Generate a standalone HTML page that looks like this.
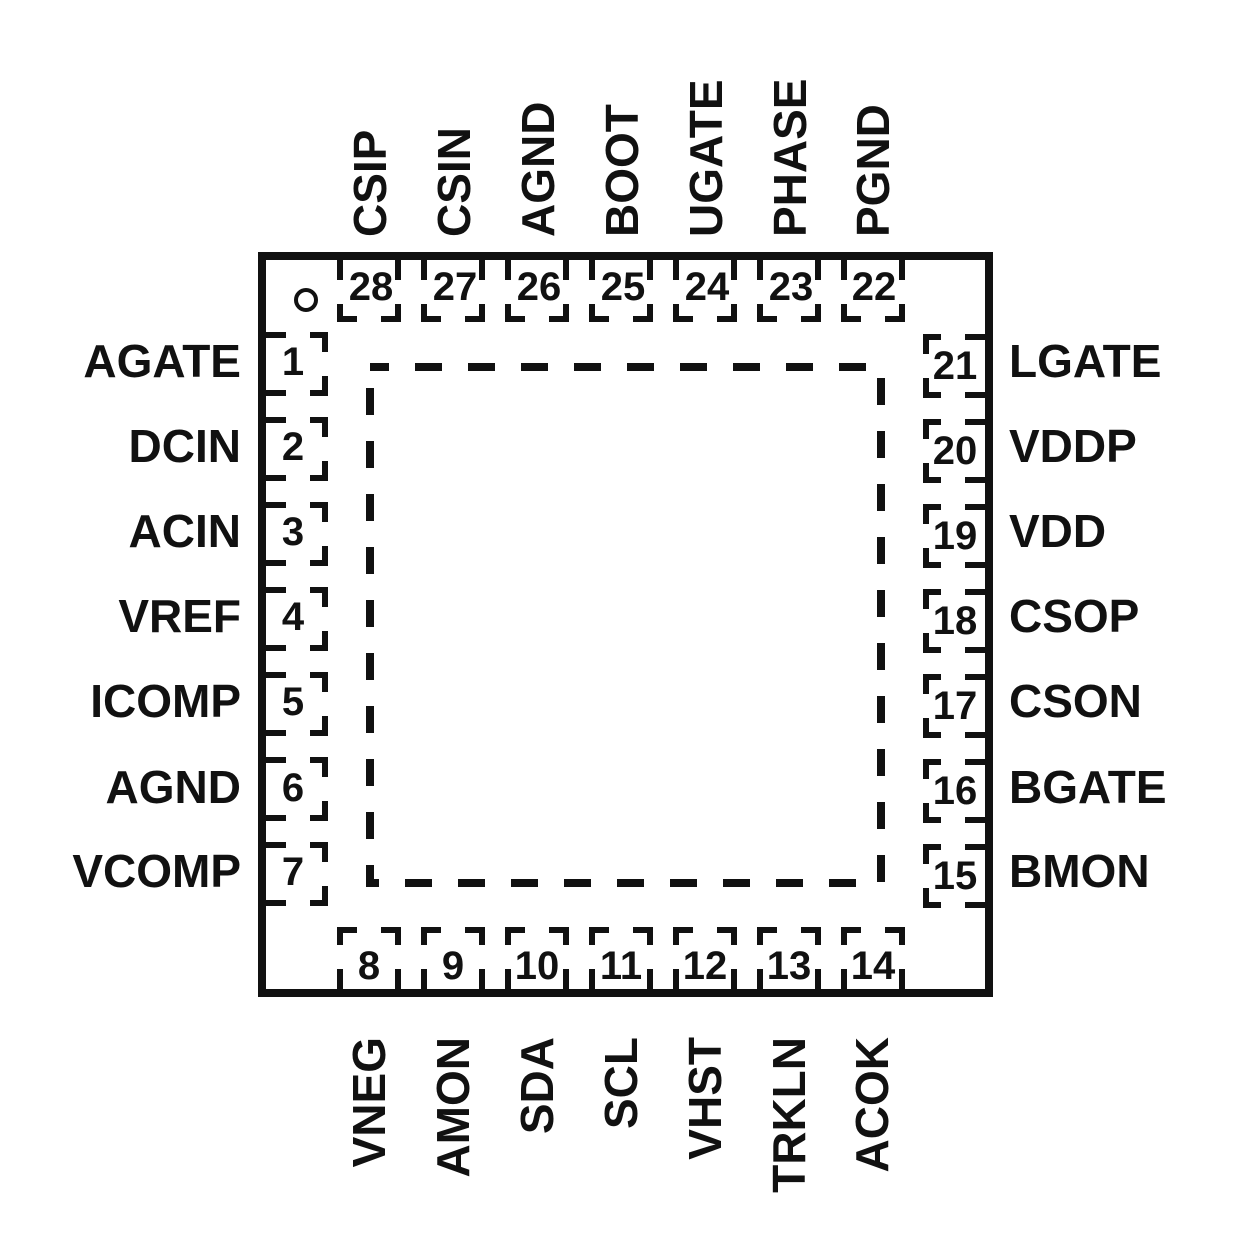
<!DOCTYPE html>
<html><head><meta charset="utf-8"><style>
html,body{margin:0;padding:0;background:#fff}
svg{display:block}
text{font-family:"Liberation Sans",Arial,sans-serif;font-weight:bold;fill:#111}
</style></head><body>
<svg width="1256" height="1256" viewBox="0 0 1256 1256" xmlns="http://www.w3.org/2000/svg">
<defs>
<g id="pad" fill="#111">
<rect x="-32" y="0" width="6" height="22"/>
<rect x="26" y="0" width="6" height="22"/>
<rect x="-32" y="46" width="6" height="18"/>
<rect x="-32" y="58" width="20" height="6"/>
<rect x="26" y="46" width="6" height="18"/>
<rect x="12" y="58" width="20" height="6"/>
</g>
</defs>
<rect x="262" y="256" width="727" height="737" fill="none" stroke="#111" stroke-width="8"/>
<circle cx="306" cy="300" r="10" fill="none" stroke="#111" stroke-width="4"/>
<rect x="370" y="367" width="511" height="516" fill="none" stroke="#111" stroke-width="8" stroke-dasharray="27 26" stroke-dashoffset="8"/>
<use href="#pad" transform="translate(369,258)"/>
<use href="#pad" transform="translate(453,258)"/>
<use href="#pad" transform="translate(537,258)"/>
<use href="#pad" transform="translate(621,258)"/>
<use href="#pad" transform="translate(705,258)"/>
<use href="#pad" transform="translate(789,258)"/>
<use href="#pad" transform="translate(873,258)"/>
<use href="#pad" transform="translate(369,991) rotate(180)"/>
<use href="#pad" transform="translate(453,991) rotate(180)"/>
<use href="#pad" transform="translate(537,991) rotate(180)"/>
<use href="#pad" transform="translate(621,991) rotate(180)"/>
<use href="#pad" transform="translate(705,991) rotate(180)"/>
<use href="#pad" transform="translate(789,991) rotate(180)"/>
<use href="#pad" transform="translate(873,991) rotate(180)"/>
<use href="#pad" transform="translate(264,364) rotate(-90)"/>
<use href="#pad" transform="translate(264,449) rotate(-90)"/>
<use href="#pad" transform="translate(264,534) rotate(-90)"/>
<use href="#pad" transform="translate(264,619) rotate(-90)"/>
<use href="#pad" transform="translate(264,704) rotate(-90)"/>
<use href="#pad" transform="translate(264,789) rotate(-90)"/>
<use href="#pad" transform="translate(264,874) rotate(-90)"/>
<use href="#pad" transform="translate(987,366) rotate(90)"/>
<use href="#pad" transform="translate(987,451) rotate(90)"/>
<use href="#pad" transform="translate(987,536) rotate(90)"/>
<use href="#pad" transform="translate(987,621) rotate(90)"/>
<use href="#pad" transform="translate(987,706) rotate(90)"/>
<use href="#pad" transform="translate(987,791) rotate(90)"/>
<use href="#pad" transform="translate(987,876) rotate(90)"/>
<g font-size="40" text-anchor="middle">
<text x="371" y="300">28</text><text x="455" y="300">27</text><text x="539" y="300">26</text><text x="623" y="300">25</text><text x="707" y="300">24</text><text x="791" y="300">23</text><text x="874" y="300">22</text>
<text x="369" y="979">8</text><text x="453" y="979">9</text><text x="537" y="979">10</text><text x="621" y="979">11</text><text x="705" y="979">12</text><text x="789" y="979">13</text><text x="873" y="979">14</text>
<text x="293" y="375">1</text><text x="293" y="460">2</text><text x="293" y="545">3</text><text x="293" y="630">4</text><text x="293" y="715">5</text><text x="293" y="801">6</text><text x="293" y="885">7</text>
<text x="955" y="379">21</text><text x="955" y="464">20</text><text x="955" y="549">19</text><text x="955" y="634">18</text><text x="955" y="719">17</text><text x="955" y="804">16</text><text x="955" y="889">15</text>
</g>
<g font-size="46" text-anchor="end">
<text x="241" y="377">AGATE</text><text x="241" y="462">DCIN</text><text x="241" y="547">ACIN</text><text x="241" y="632">VREF</text><text x="241" y="717">ICOMP</text><text x="241" y="803">AGND</text><text x="241" y="887">VCOMP</text>
</g>
<g font-size="46" text-anchor="start">
<text x="1009" y="377">LGATE</text><text x="1009" y="462">VDDP</text><text x="1009" y="547">VDD</text><text x="1009" y="632">CSOP</text><text x="1009" y="717">CSON</text><text x="1009" y="803">BGATE</text><text x="1009" y="887">BMON</text>
</g>
<g font-size="46" text-anchor="start">
<text transform="translate(386,237) rotate(-90)">CSIP</text>
<text transform="translate(470,237) rotate(-90)">CSIN</text>
<text transform="translate(554,237) rotate(-90)">AGND</text>
<text transform="translate(638,237) rotate(-90)">BOOT</text>
<text transform="translate(722,237) rotate(-90)">UGATE</text>
<text transform="translate(806,237) rotate(-90)">PHASE</text>
<text transform="translate(889,237) rotate(-90)">PGND</text>
</g>
<g font-size="46" text-anchor="end">
<text transform="translate(385,1037) rotate(-90)">VNEG</text>
<text transform="translate(469,1037) rotate(-90)">AMON</text>
<text transform="translate(553,1037) rotate(-90)">SDA</text>
<text transform="translate(637,1037) rotate(-90)">SCL</text>
<text transform="translate(721,1037) rotate(-90)">VHST</text>
<text transform="translate(805,1037) rotate(-90)">TRKLN</text>
<text transform="translate(888,1037) rotate(-90)">ACOK</text>
</g>
</svg>
</body></html>
